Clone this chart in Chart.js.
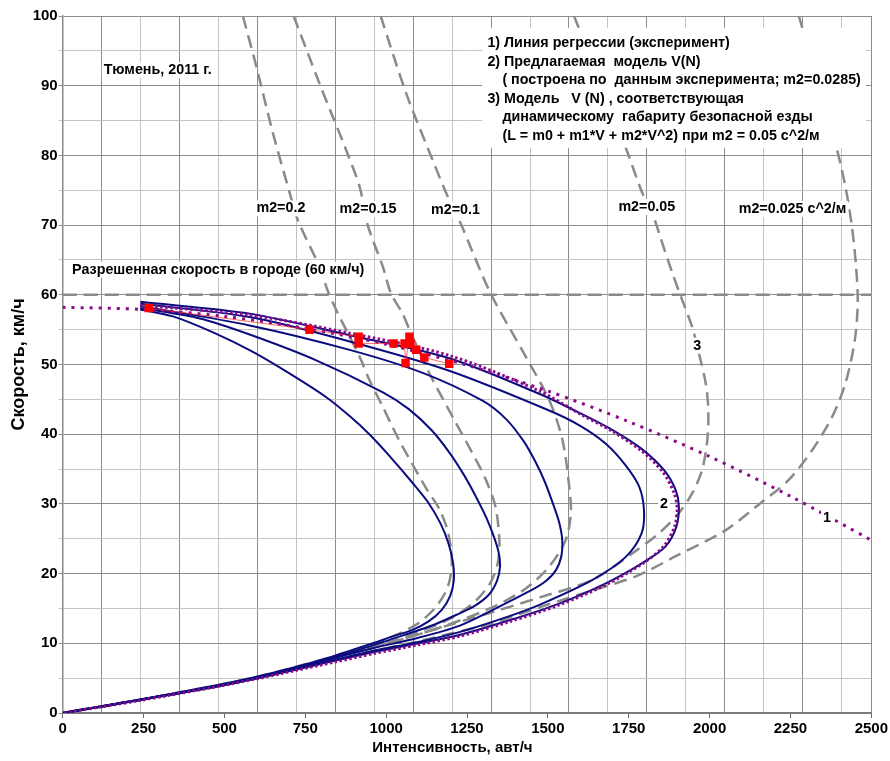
<!DOCTYPE html>
<html>
<head>
<meta charset="utf-8">
<script src="https://cdn.jsdelivr.net/npm/chart.js@4.4.1/dist/chart.umd.min.js"></script>
<style>
  html, body { margin: 0; padding: 0; background: #fff; }
</style>
</head>
<body>
<canvas id="chart" width="890" height="761"></canvas>
<script>
// axis ticks
const xTicks = [0, 250, 500, 750, 1000, 1250, 1500, 1750, 2000, 2250, 2500]
const yTicks = [0, 10, 20, 30, 40, 50, 60, 70, 80, 90, 100]
const speedLimit = 60

// 1) regression line (experiment)
const regN = [0, 250, 500, 750, 1000, 1250, 1500, 1750, 2000, 2250, 2500]
const regV = [58.2, 57.9, 56.9, 55.2, 52.9, 49.9, 46.2, 41.8, 36.8, 31.1, 24.8]

// experiment points
const expN = [266, 763, 915, 915, 1023, 1057, 1060, 1072, 1075, 1093, 1118, 1195]
const expV = [58.1, 55.0, 54.0, 53.0, 53.0, 53.0, 50.2, 54.0, 53.0, 52.1, 51.0, 50.1]

// 2) proposed model V(N), m2=0.0285  [N, V]
const model = [[240, 58.5], [578, 57.1], [887, 54.5], [1195, 51.3], [1473, 46.2], [1600, 42.9], [1700, 40.4],
  [1790, 37.6], [1855, 34.6], [1890, 31.6], [1900, 29.3], [1892, 26.8], [1860, 24.0], [1795, 21.5], [1679, 18.4],
  [1535, 15.5], [1381, 13.1], [1226, 11.0], [1100, 9.8], [959, 8.5], [840, 7.3], [720, 6.1], [600, 4.9],
  [478, 3.8], [239, 1.8], [0, 0]]

// model family (solid navy)
const flow1 = [[240, 57.9], [341, 56.9], [465, 54.6], [588, 51.8], [712, 48.4], [815, 45.3], [887, 42.6], [948, 40.0],
  [1010, 36.9], [1082, 33.0], [1130, 30.2], [1168, 27.2], [1193, 24.3], [1207, 21.5], [1209, 19], [1198, 16.8],
  [1172, 14.8], [1130, 13.1], [1080, 11.9], [1020, 11.0], [959, 10], [840, 8.2], [720, 6.6], [600, 5.2], [478, 4.0],
  [239, 1.9], [0, 0]]
const flow2 = [[240, 58.1], [424, 56.6], [578, 54.3], [784, 50.6], [990, 46.0], [1070, 43.6], [1140, 40.6],
  [1195, 37.4], [1240, 34.2], [1278, 31], [1310, 28], [1333, 25.3], [1348, 23], [1352, 21], [1343, 19], [1318, 17],
  [1275, 15.4], [1227, 14.3], [1150, 12.7], [1050, 11.1], [959, 9.7], [840, 8.0], [720, 6.5], [600, 5.1], [478, 3.9],
  [239, 1.9], [0, 0]]
const flow3 = [[240, 58.4], [578, 55.6], [887, 52.1], [1113, 48.8], [1298, 44.8], [1370, 42.2], [1425, 39],
  [1462, 36], [1492, 33], [1516, 30], [1534, 27.5], [1544, 25], [1542, 22.6], [1525, 20.5], [1490, 18.8],
  [1440, 17.4], [1330, 14.8], [1226, 12.5], [1100, 10.8], [959, 9.3], [840, 7.9], [720, 6.4], [600, 5.1], [478, 3.9],
  [239, 1.9], [0, 0]]
const flow4 = [[240, 58.7], [578, 56.8], [887, 53.3], [1195, 49.1], [1504, 43.4], [1600, 41.2], [1680, 38.6],
  [1741, 35.5], [1782, 32.5], [1797, 29.2], [1790, 25.8], [1741, 22.4], [1638, 19.1], [1483, 15.7], [1381, 13.9],
  [1226, 11.6], [1100, 10.2], [959, 8.9], [840, 7.6], [720, 6.3], [600, 5.0], [478, 3.9], [239, 1.9], [0, 0]]
const flow5 = [[240, 59.0], [578, 57.3], [887, 54.2], [1195, 50.9], [1473, 45.8], [1600, 43.0], [1700, 40.6],
  [1790, 37.9], [1860, 34.8], [1895, 32], [1905, 29.6], [1897, 26.7], [1864, 23.9], [1802, 21.8], [1679, 18.6],
  [1535, 15.7], [1381, 13.3], [1226, 11.2], [1100, 10.0], [959, 8.7], [840, 7.5], [720, 6.2], [600, 5.0], [478, 3.8],
  [239, 1.9], [0, 0]]

// safe-distance model for several m2 (dashed grey)
const m2_020 = [[557, 100], [599, 92.7], [650, 83.2], [702, 74.6], [727, 70.7], [794, 64.0], [820, 60.5], [851, 57.3],
  [876, 55], [918, 51.1], [948, 47.8], [990, 43.9], [1020, 41], [1051, 38.2], [1123, 32.3], [1165, 29.2],
  [1192, 25.8], [1203, 21.5], [1190, 18], [1150, 15], [1090, 12.6], [1000, 10.6], [900, 9], [750, 7], [600, 5.2],
  [478, 4.0], [239, 1.9], [0, 0]]
const m2_015 = [[714, 100], [794, 90.3], [876, 80.8], [918, 75.5], [943, 70], [990, 64], [1015, 60.2], [1051, 57.3],
  [1072, 55], [1134, 48.7], [1216, 41.6], [1278, 36.3], [1309, 33.4], [1338, 29.6], [1350, 24.8], [1345, 21.5],
  [1320, 18.5], [1270, 15.8], [1200, 13.6], [1100, 11.6], [1000, 10.0], [870, 8.3], [720, 6.4], [600, 5.1],
  [478, 4.0], [239, 1.9], [0, 0]]
const m2_010 = [[983, 100], [1062, 88.9], [1144, 79.3], [1195, 73.6], [1226, 70.7], [1322, 60.3], [1432, 51.1],
  [1504, 44.9], [1545, 39.2], [1566, 32.5], [1571, 28.7], [1555, 24.8], [1504, 21], [1430, 17.8], [1330, 15.2],
  [1200, 12.8], [1080, 11], [960, 9.4], [840, 8], [720, 6.5], [600, 5.1], [478, 3.9], [239, 1.9], [0, 0]]
const m2_005 = [[1581, 100], [1740, 81.2], [1792, 74.6], [1823, 71.7], [1844, 68.8], [1885, 63.1], [1915, 59.3],
  [1946, 55.4], [1967, 51.6], [1988, 47.3], [1996, 43.5], [1993, 39.2], [1977, 34.9], [1946, 31.5], [1905, 28.7],
  [1844, 25.8], [1761, 22.9], [1638, 19.1], [1483, 16.7], [1330, 14.5], [1200, 12.7], [1080, 11], [960, 9.4],
  [840, 7.9], [720, 6.4], [600, 5.1], [478, 3.9], [239, 1.9], [0, 0]]
const m2_0025 = [[2276, 100], [2389, 81.7], [2420, 75.5], [2440, 69.8], [2453, 64], [2458, 59], [2449, 53.5],
  [2420, 47.3], [2379, 42.5], [2317, 37.7], [2244, 33.4], [2157, 30.1], [2049, 26.2], [1900, 22.6], [1772, 19.6],
  [1638, 17.6], [1483, 15.3], [1329, 12.9], [1200, 11.4], [1080, 10.1], [960, 8.9], [840, 7.6], [720, 6.3],
  [600, 5.0], [478, 3.8], [239, 1.9], [0, 0]]

const gridDark = '#8c8c8c'
const gridLight = '#c4c4c4'
const navy = '#0c0c80'
const purple = '#8b0a8b'
const dashGrey = '#8a8a8a'
const textFont = 'bold 14.3px "Liberation Sans", Arial, sans-serif'
const tickFont = { family: "'Liberation Sans', Arial, sans-serif", size: 15, weight: 'bold' }
const gridStepN = 120.4

const pts = a => a.map(([x, y]) => ({ x, y }))
const zip = (xs, ys) => xs.map((x, i) => ({ x, y: ys[i] }))

// text notes placed in data coordinates, drawn over white boxes
const notes = [
  { text: 'Тюмень, 2011 г.', n: 127, v: 92.2 },
  { text: 'Разрешенная скорость в городе (60 км/ч)', n: 29, v: 63.6 },
  { text: 'm2=0.2', n: 599, v: 72.4 },
  { text: 'm2=0.15', n: 856, v: 72.3 },
  { text: 'm2=0.1', n: 1139, v: 72.2 },
  { text: 'm2=0.05', n: 1718, v: 72.6 },
  { text: 'm2=0.025 с^2/м', n: 2090, v: 72.3 },
  { text: '1', n: 2363, v: 27.9, center: true },
  { text: '2', n: 1859, v: 30.0, center: true },
  { text: '3', n: 1962, v: 52.7, center: true },
]
const legendLines = [
  '1) Линия регрессии (эксперимент)',
  '2) Предлагаемая  модель V(N)',
  '( построена по  данным эксперимента; m2=0.0285)',
  '3) Модель   V (N) , соответствующая',
  'динамическому  габариту безопасной езды',
  '(L = m0 + m1*V + m2*V^2) при m2 = 0.05 с^2/м',
]
const legendIndent = [0, 0, 1, 0, 1, 1]

const notesPlugin = {
  id: 'notes',
  afterDatasetsDraw(chart) {
    const { ctx, scales: { x, y } } = chart
    ctx.save()
    ctx.font = textFont
    ctx.textBaseline = 'middle'
    ctx.textAlign = 'left'
    notes.forEach(nt => {
      const w = ctx.measureText(nt.text).width
      let px = x.getPixelForValue(nt.n)
      const py = y.getPixelForValue(nt.v)
      if (nt.center) px -= w / 2
      ctx.fillStyle = '#fff'
      ctx.fillRect(px - 2, py - 8, w + 4, 16)
      ctx.fillStyle = '#000'
      ctx.fillText(nt.text, px, py)
    })
    // legend box
    const bx1 = x.getPixelForValue(1297), bx2 = x.getPixelForValue(2484)
    const by1 = y.getPixelForValue(98.3), by2 = y.getPixelForValue(81.1)
    ctx.fillStyle = '#fff'
    ctx.fillRect(bx1, by1, bx2 - bx1, by2 - by1)
    ctx.fillStyle = '#000'
    const tx = x.getPixelForValue(1313)
    const ty = y.getPixelForValue(96.1)
    legendLines.forEach((line, i) => {
      ctx.fillText(line, tx + legendIndent[i] * 15, ty + i * 18.5)
    })
    ctx.restore()
  }
}

const line = (data, color, width, dash, extra) => Object.assign({
  data, borderColor: color, borderWidth: width, borderDash: dash || [],
  showLine: true, pointRadius: 0, tension: 0.3, fill: false,
}, extra || {})

new Chart(document.getElementById('chart'), {
  type: 'scatter',
  data: {
    datasets: [
      line(zip(expN, expV), 'rgba(255,40,40,0.7)', 1, [], {
        tension: 0, pointRadius: 6, pointStyle: 'rect',
        pointBackgroundColor: '#ff0000', pointBorderColor: '#ff0000', pointBorderWidth: 0,
      }),
      line(pts(model), purple, 3, [2.5, 2.5]),
      line(zip(regN, regV), purple, 3, [3, 6]),
      line(pts(flow5), navy, 2),
      line(pts(flow4), navy, 2),
      line(pts(flow3), navy, 2),
      line(pts(flow2), navy, 2),
      line(pts(flow1), navy, 2),
      line(pts(m2_020), dashGrey, 2.5, [13, 7]),
      line(pts(m2_015), dashGrey, 2.5, [13, 7]),
      line(pts(m2_010), dashGrey, 2.5, [13, 7]),
      line(pts(m2_005), dashGrey, 2.5, [13, 7]),
      line(pts(m2_0025), dashGrey, 2.5, [13, 7]),
      line([{ x: 0, y: speedLimit }, { x: 2500, y: speedLimit }], dashGrey, 2.5, [14, 7], { tension: 0 }),
    ]
  },
  options: {
    responsive: false,
    animation: false,
    layout: { padding: { top: 16, right: 17.5, left: 0, bottom: 0 } },
    plugins: {
      legend: { display: false },
      tooltip: { enabled: false },
    },
    scales: {
      x: {
        type: 'linear', min: 0, max: 2500,
        afterBuildTicks: s => { s.ticks = xTicks.map(v => ({ value: v })) },
        ticks: { font: tickFont, color: '#000', maxRotation: 0, autoSkip: false, padding: 2, callback: v => String(v) },
        grid: { drawOnChartArea: false, tickLength: 5, color: '#666' },
        border: { color: '#7a7a7a', width: 2 },
        title: {
          display: true, text: 'Интенсивность, авт/ч       ', font: tickFont, color: '#000',
          padding: { top: 0, bottom: 4.5 },
        },
        afterFit: s => { s.height = 48 },
      },
      xg: {
        type: 'linear', position: 'top', min: 0, max: 2500,
        afterBuildTicks: s => {
          const t = []
          for (let v = 0; v < 2500; v += gridStepN) t.push({ value: v })
          t.push({ value: 2500 })
          s.ticks = t
        },
        ticks: { display: false },
        grid: {
          drawTicks: false,
          color: c => (c.index % 2 === 1 || c.tick.value === 2500) ? gridDark : gridLight,
        },
        border: { display: false },
      },
      y: {
        type: 'linear', min: 0, max: 100,
        ticks: {
          stepSize: 5, autoSkip: false, font: tickFont, color: '#000', padding: 1,
          callback: v => yTicks.includes(v) ? v : '',
        },
        grid: { color: c => c.tick.value % 10 === 0 ? gridDark : gridLight, tickLength: 4 },
        border: { color: '#8a8a8a', width: 1.5 },
        title: {
          display: true, text: 'Скорость, км/ч', color: '#000',
          font: { family: "'Liberation Sans', Arial, sans-serif", size: 18, weight: 'bold' },
          padding: { top: 8, bottom: 0 },
        },
        afterFit: s => { s.width = 62.7 },
      }
    }
  },
  plugins: [notesPlugin]
})
</script>
</body>
</html>
